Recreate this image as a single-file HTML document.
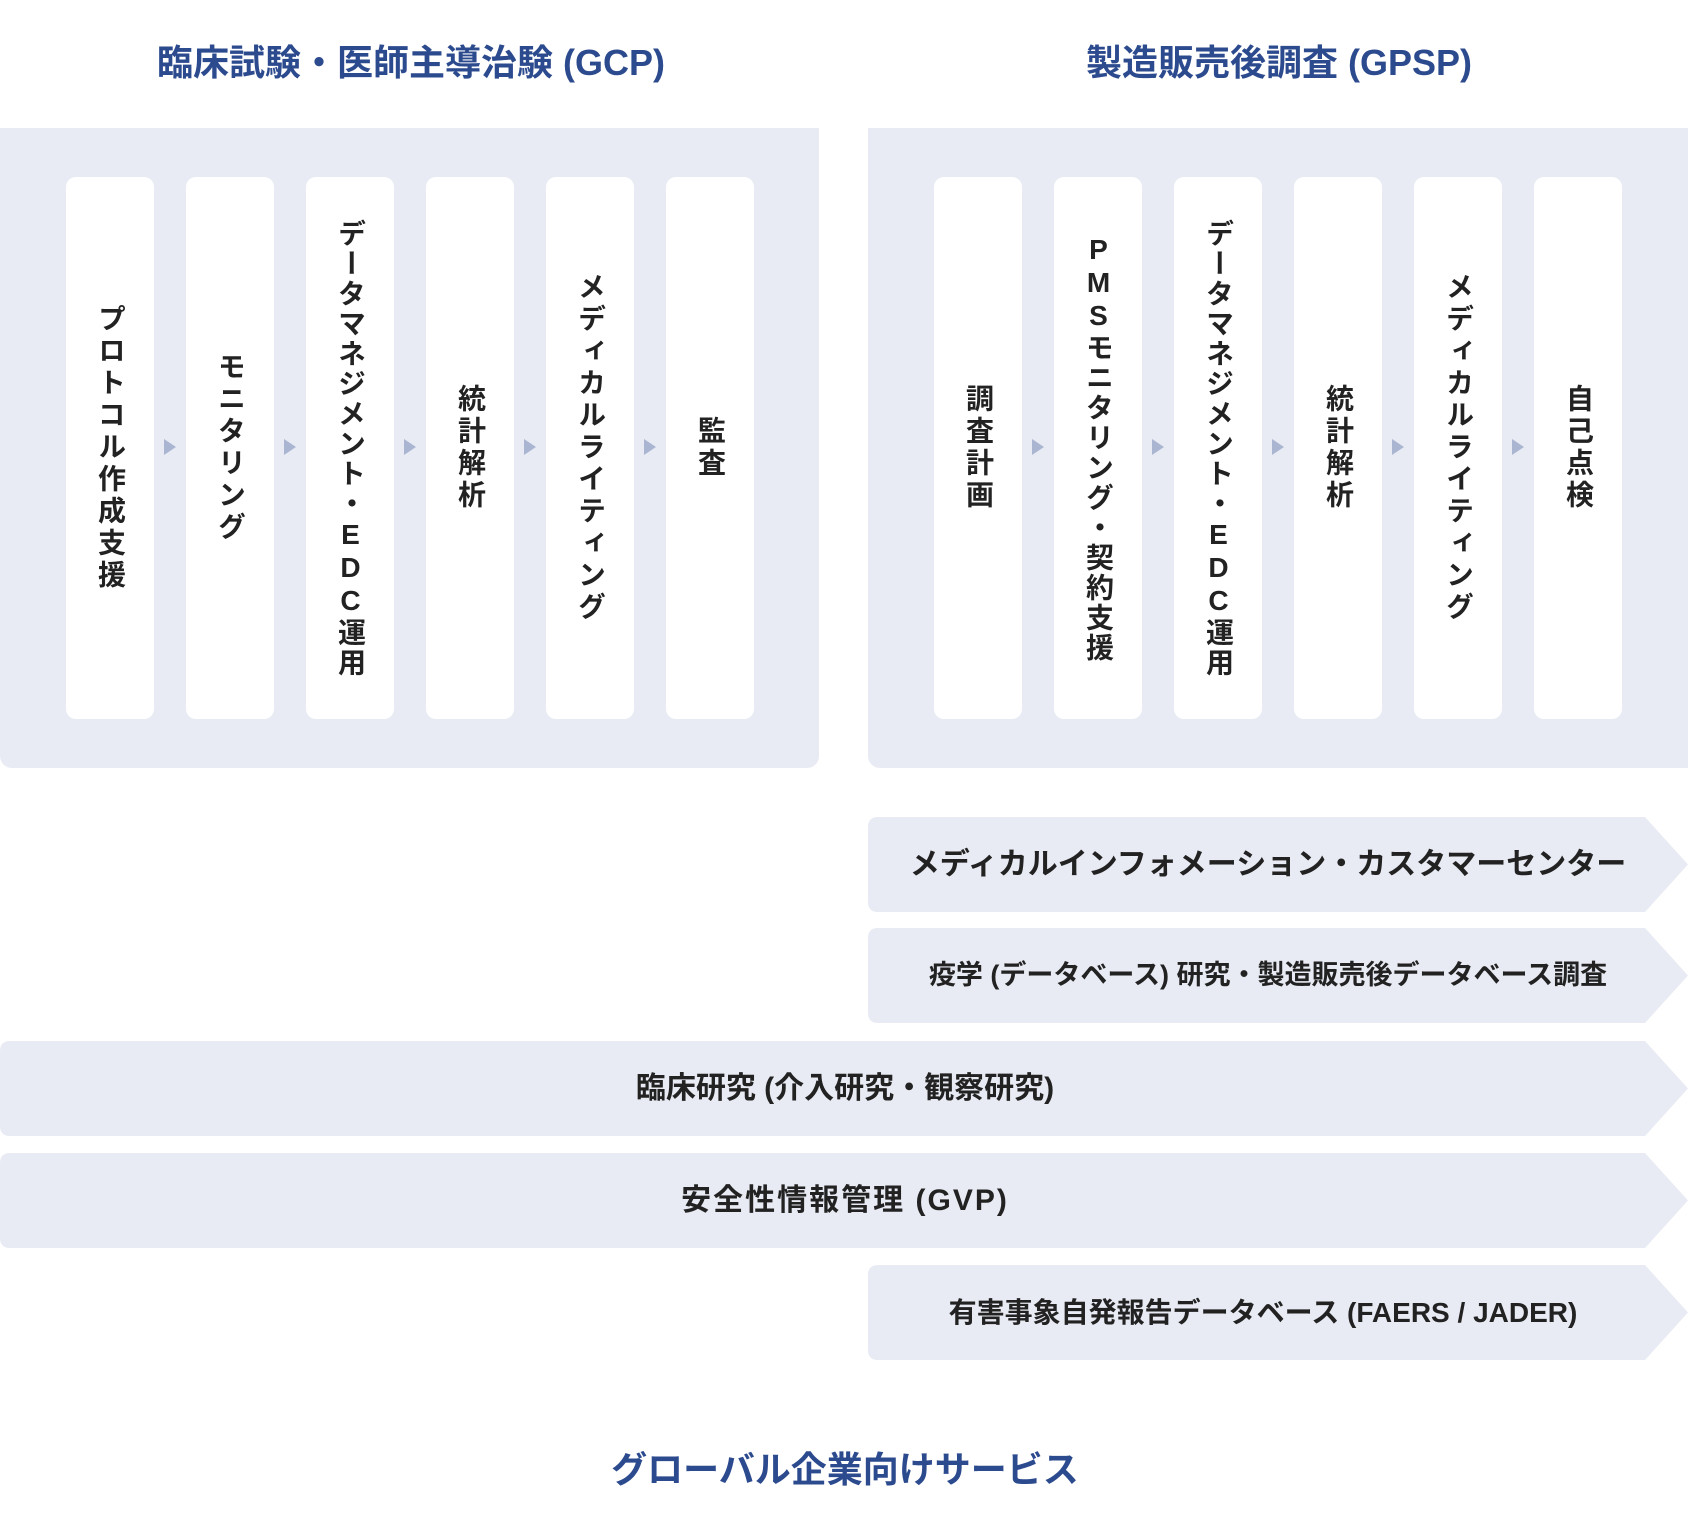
<!DOCTYPE html>
<html><head><meta charset="utf-8"><style>
body{margin:0;width:1688px;height:1536px;background:#fff;position:relative;overflow:hidden;font-family:"Liberation Sans","Noto Sans CJK JP",sans-serif;}
.t{position:absolute;color:#2c4a8e;font-weight:bold;font-size:36px;line-height:44px;text-align:center;white-space:nowrap;}
.panel{position:absolute;background:#e8ebf3;top:128px;height:640px;border-radius:0 0 12px 12px;}
.card{position:absolute;top:177px;width:88px;height:542px;background:#fff;border-radius:10px;display:flex;align-items:center;justify-content:center;}
.card span{writing-mode:vertical-rl;text-orientation:upright;font-size:28px;font-weight:bold;color:#222;letter-spacing:2px;}
.card span.w{letter-spacing:4px;}
.ar{position:absolute;top:439px;width:0;height:0;border-top:8px solid transparent;border-bottom:8px solid transparent;border-left:12px solid #aab5d2;}
.bn{position:absolute;height:95px;}
.bn svg{position:absolute;left:0;top:0;}
.bn div{position:absolute;top:0;height:95px;line-height:95px;text-align:center;font-weight:bold;color:#222;white-space:nowrap;}
</style></head><body>
<div class="t" style="left:111px;width:600px;top:41px;">臨床試験・医師主導治験 (GCP)</div>
<div class="t" style="left:979px;width:600px;top:41px;">製造販売後調査 (GPSP)</div>
<div class="panel" style="left:0;width:819px;"></div>
<div class="panel" style="left:868px;width:820px;border-radius:0 0 0 12px;"></div>

<div class="card" style="left:66px"><span class="w">プロトコル作成支援</span></div>
<div class="card" style="left:186px"><span class="w">モニタリング</span></div>
<div class="card" style="left:306px"><span>データマネジメント・EDC運用</span></div>
<div class="card" style="left:426px"><span class="w">統計解析</span></div>
<div class="card" style="left:546px"><span class="w">メディカルライティング</span></div>
<div class="card" style="left:666px"><span class="w">監査</span></div>
<div class="ar" style="left:164px"></div><div class="ar" style="left:284px"></div><div class="ar" style="left:404px"></div><div class="ar" style="left:524px"></div><div class="ar" style="left:644px"></div>

<div class="card" style="left:934px"><span class="w">調査計画</span></div>
<div class="card" style="left:1054px"><span>PMSモニタリング・契約支援</span></div>
<div class="card" style="left:1174px"><span>データマネジメント・EDC運用</span></div>
<div class="card" style="left:1294px"><span class="w">統計解析</span></div>
<div class="card" style="left:1414px"><span class="w">メディカルライティング</span></div>
<div class="card" style="left:1534px"><span class="w">自己点検</span></div>
<div class="ar" style="left:1032px"></div><div class="ar" style="left:1152px"></div><div class="ar" style="left:1272px"></div><div class="ar" style="left:1392px"></div><div class="ar" style="left:1512px"></div>

<div class="bn" style="left:868px;top:817px;width:820px;"><svg width="820" height="95"><path d="M10 0H777L820 47.5L777 95H10Q0 95 0 85V10Q0 0 10 0Z" fill="#e8ebf3"/></svg><div style="left:0;width:800px;font-size:30px;">メディカルインフォメーション・カスタマーセンター</div></div>
<div class="bn" style="left:868px;top:928px;width:820px;"><svg width="820" height="95"><path d="M10 0H777L820 47.5L777 95H10Q0 95 0 85V10Q0 0 10 0Z" fill="#e8ebf3"/></svg><div style="left:0;width:800px;font-size:27px;">疫学 (データベース) 研究・製造販売後データベース調査</div></div>
<div class="bn" style="left:0;top:1041px;width:1688px;"><svg width="1688" height="95"><path d="M10 0H1645L1688 47.5L1645 95H10Q0 95 0 85V10Q0 0 10 0Z" fill="#e8ebf3"/></svg><div style="left:0;width:1690px;font-size:30px;">臨床研究 (介入研究・観察研究)</div></div>
<div class="bn" style="left:0;top:1153px;width:1688px;"><svg width="1688" height="95"><path d="M10 0H1645L1688 47.5L1645 95H10Q0 95 0 85V10Q0 0 10 0Z" fill="#e8ebf3"/></svg><div style="left:0;width:1690px;font-size:30px;letter-spacing:2px;">安全性情報管理 (GVP)</div></div>
<div class="bn" style="left:868px;top:1265px;width:820px;"><svg width="820" height="95"><path d="M10 0H777L820 47.5L777 95H10Q0 95 0 85V10Q0 0 10 0Z" fill="#e8ebf3"/></svg><div style="left:0;width:790px;font-size:28px;">有害事象自発報告データベース (FAERS / JADER)</div></div>

<div class="t" style="left:545px;width:600px;top:1448px;">グローバル企業向けサービス</div>
</body></html>
